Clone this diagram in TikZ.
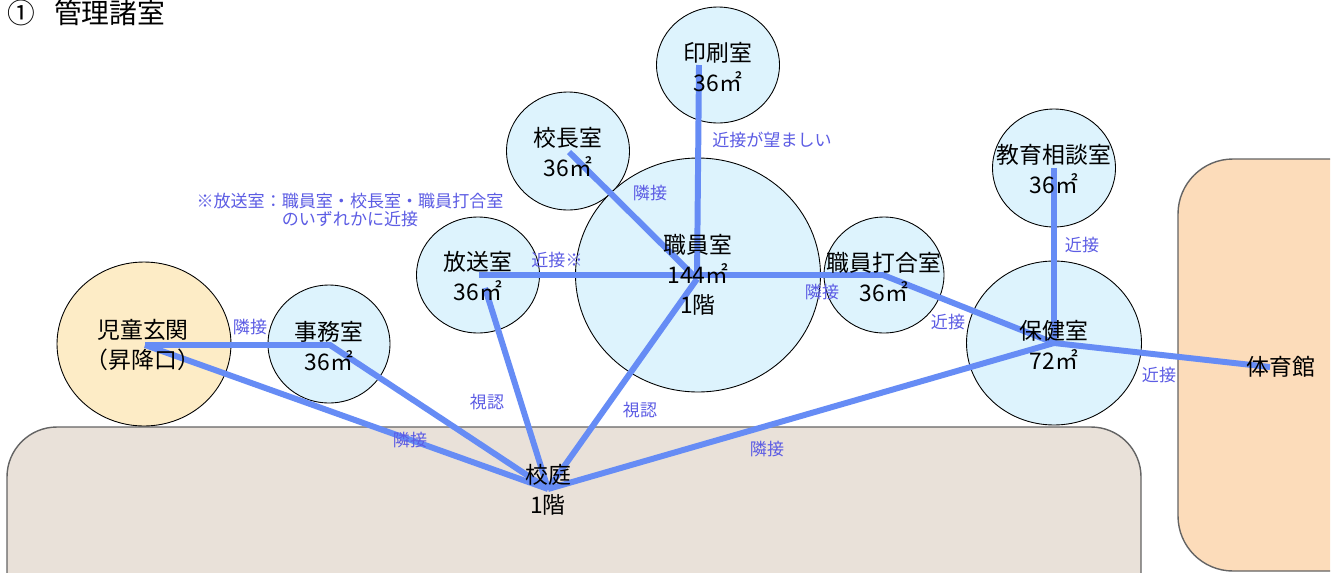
\documentclass[tikz,border=0pt]{standalone}
\usepackage{fontspec}
\setmainfont{Noto Sans CJK JP}
\usetikzlibrary{shapes.geometric}
\definecolor{roomfill}{RGB}{221,243,253}
\definecolor{entfill}{RGB}{253,236,198}
\definecolor{groundfill}{RGB}{233,225,217}
\definecolor{gymfill}{RGB}{252,220,186}
\definecolor{linkblue}{RGB}{102,140,245}
\definecolor{lblblue}{RGB}{92,92,228}
\definecolor{edgegrey}{RGB}{100,100,100}
\begin{document}
\begin{tikzpicture}[x=0.02cm,y=-0.02cm,
  room/.style={ellipse, draw=black, line width=0.5pt, fill=roomfill, inner sep=0pt},
  rtext/.style={align=center, font=\fontsize{13}{17}\selectfont, inner sep=0pt, text=black},
  lbl/.style={font=\fontsize{9.7}{10.5}\selectfont, text=lblblue, inner sep=0pt, align=center},
  link/.style={draw=linkblue, line width=3.4pt},
  area/.style={draw=edgegrey, line width=0.8pt, rounded corners=1cm}
]
\useasboundingbox (0,0) rectangle (1338,572);
\fill[white] (0,0) rectangle (1338,572);
% ground (school yard)
\begin{scope}
  \clip (0,0) rectangle (1338,572);
  \draw[area, fill=groundfill] (7,427) rectangle (1141,650);
\end{scope}
% gymnasium
\begin{scope}
  \clip (0,0) rectangle (1330,572);
  \draw[area, fill=gymfill, rounded corners=1.1cm] (1178,159) rectangle (1420,571);
\end{scope}
% title
\node[anchor=west, font=\fontsize{15.8}{18}\selectfont, inner sep=0pt] (title) at (7,13) {①\hspace{0.38cm}管理諸室};
% rooms
\node[room, minimum width=2.46cm, minimum height=2.32cm] (insatsu) at (718,65) {};
\node[room, minimum width=2.46cm, minimum height=2.36cm] (kocho) at (568,151) {};
\node[room, minimum width=4.9cm, minimum height=4.68cm] (shokuin) at (698,275) {};
\node[room, minimum width=2.46cm, minimum height=2.32cm] (hoso) at (478,275) {};
\node[room, minimum width=2.4cm, minimum height=2.32cm] (uchi) at (884,275) {};
\node[room, minimum width=2.46cm, minimum height=2.36cm] (kyoiku) at (1054,168) {};
\node[room, minimum width=3.5cm, minimum height=3.28cm] (hoken) at (1054,343) {};
\node[room, fill=entfill, minimum width=3.48cm, minimum height=3.28cm] (genkan) at (144,344) {};
\node[room, minimum width=2.44cm, minimum height=2.36cm] (jimu) at (329,344) {};
% hub points
\coordinate (hInsatsu) at (699,65);
\coordinate (hKocho) at (569,152);
\coordinate (hShokuin) at (697,279);
\coordinate (hHoso) at (479,275);
\coordinate (hHoso2) at (485,288);
\coordinate (hUchi) at (883,275);
\coordinate (hKyoiku) at (1054,168);
\coordinate (hHoken) at (1054,343);
\coordinate (hGym) at (1270,367);
\coordinate (hGenkan) at (145,345);
\coordinate (hJimu) at (330,345);
\coordinate (hKotei) at (548,489);
% connectors
\draw[link] (hInsatsu) -- (hShokuin);
\draw[link] (hKocho) -- (hShokuin);
\draw[link] (hHoso) -- (hUchi) -- (hHoken);
\draw[link] (hKyoiku) -- (hHoken);
\draw[link] (hHoken) -- (hGym);
\draw[link] (hGenkan) -- (hJimu) -- (hKotei);
\draw[link] (hGenkan) -- (hKotei);
\draw[link] (hHoso2) -- (hKotei);
\draw[link] (hShokuin) -- (hKotei);
\draw[link] (hHoken) -- (hKotei);
% room texts
\node[rtext] (tInsatsu) at (718,67) {印刷室\\36㎡};
\node[rtext] (tKocho) at (568,152) {校長室\\36㎡};
\node[rtext] (tShokuin) at (698,275) {職員室\\144㎡\\1階};
\node[rtext] (tHoso) at (478,276) {放送室\\36㎡};
\node[rtext] (tUchi) at (884,277) {職員打合室\\36㎡};
\node[rtext] (tKyoiku) at (1054,169) {教育相談室\\36㎡};
\node[rtext] (tHoken) at (1054,345) {保健室\\72㎡};
\node[rtext] (tGenkan) at (143,345) {児童玄関\\{\addfontfeatures{RawFeature=+halt}（昇降口）}};
\node[rtext] (tJimu) at (329,346) {事務室\\36㎡};
\node[rtext] (tKotei) at (548,490) {校庭\\1階};
\node[rtext] (tGym) at (1281,367) {体育館};
% relation labels
\node[lbl] (l1) at (772,140) {近接が望ましい};
\node[lbl] (l2) at (650,193) {隣接};
\node[lbl] (note) at (350,210) {※放送室：職員室・校長室・職員打合室\\のいずれかに近接};
\node[lbl] (l3) at (557,260) {近接※};
\node[lbl] (l4) at (822,292) {隣接};
\node[lbl] (l5) at (948,322) {近接};
\node[lbl] (l6) at (1082,245) {近接};
\node[lbl] (l7) at (1159,375) {近接};
\node[lbl] (l8) at (250,327) {隣接};
\node[lbl] (l9) at (410,440) {隣接};
\node[lbl] (l10) at (487,402) {視認};
\node[lbl] (l11) at (640,410) {視認};
\node[lbl] (l12) at (767,449) {隣接};
\end{tikzpicture}
\end{document}
